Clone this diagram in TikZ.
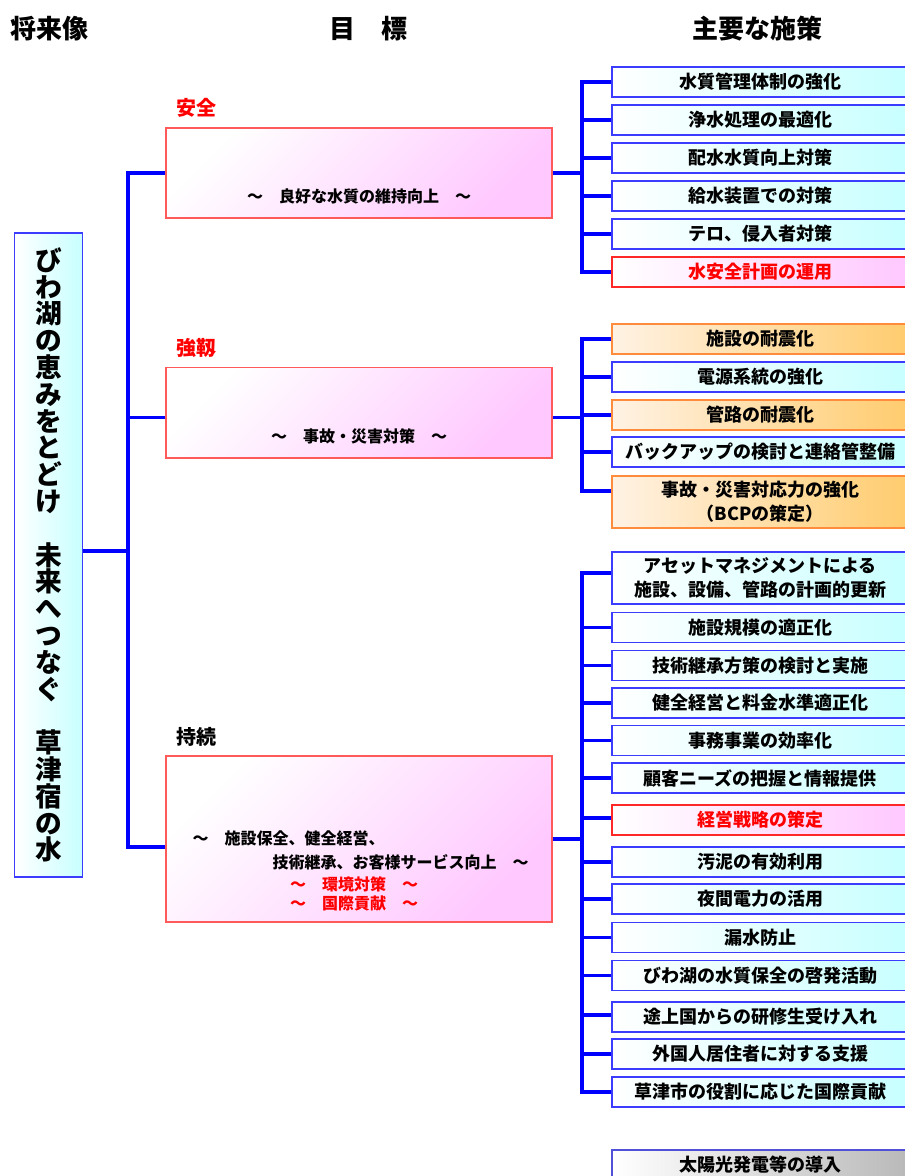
\documentclass[tikz,border=0pt]{standalone}
\usepackage{fontspec}
\setmainfont{Noto Sans CJK JP}

\definecolor{linkblue}{RGB}{0,0,255}
\definecolor{boxblue}{RGB}{60,60,255}
\definecolor{cyanfill}{RGB}{200,255,255}
\definecolor{orangeline}{RGB}{255,140,60}
\definecolor{orangelight}{RGB}{255,242,228}
\definecolor{orangefill}{RGB}{255,204,110}
\definecolor{redline}{RGB}{255,40,40}
\definecolor{pinkfill}{RGB}{255,200,255}
\definecolor{goalline}{RGB}{255,90,90}
\definecolor{greyfill}{RGB}{185,185,185}

\tikzset{every picture/.style={line width=0.75pt}}
\tikzset{
  trunk/.style={draw=linkblue, line width=2.5pt},
  measurebox/.style={draw=boxblue, line width=1pt, left color=white, right color=cyanfill,
    minimum width=222pt, minimum height=22.5pt, inner sep=0pt, align=center,
    font=\fontsize{13.5}{18}\selectfont\bfseries},
  quakebox/.style={measurebox, draw=orangeline, left color=orangelight, right color=orangefill},
  keybox/.style={measurebox, draw=redline, left color=white, right color=pinkfill, text=red},
  laterbox/.style={measurebox, draw=boxblue!70!gray, left color=white, right color=greyfill},
  goalbox/.style={draw=goalline, line width=1pt, top color=white, bottom color=pinkfill,
    shading angle=45, minimum width=289.5pt, minimum height=67.5pt, inner sep=0pt},
  goaltitle/.style={anchor=west, inner sep=0pt, font=\fontsize{15}{18}\selectfont\bfseries},
  goaltext/.style={inner sep=0pt, font=\fontsize{12}{18}\selectfont\bfseries},
  headtext/.style={font=\fontsize{19.5}{22}\selectfont\bfseries},
  visionbox/.style={draw=boxblue, line width=1pt, left color=white, right color=cyanfill,
    minimum width=51pt, minimum height=483pt, inner sep=0pt, align=center,
    font=\fontsize{20}{20.1}\selectfont\bfseries}
}

\begin{document}
\begin{tikzpicture}[x=0.75pt,y=0.75pt,yscale=-1,xscale=1]
  \useasboundingbox (0,0) rectangle (905,1176);
  \clip (0,0) rectangle (905,1176);

  \node [headtext] (hvision) at (49,29) {将来像};
  \node [headtext] (hgoal) at (368,29) {目　標};
  \node [headtext] (hmeasure) at (757,29) {主要な施策};

  \node [visionbox] (vision) at (48.5,555) {び\\わ\\湖\\の\\恵\\み\\を\\と\\ど\\け\\\mbox{}\\未\\来\\へ\\つ\\な\\ぐ\\\mbox{}\\草\\津\\宿\\の\\水};

  % goals
  \node [goalbox] (anzen) at (359,173) {};
  \node [goaltitle, text=red] (anzent) at (176,108) {安全};
  \node [goaltext] (anzenx) at (359,196) {～　良好な水質の維持向上　～};

  \node [goalbox, minimum height=68pt] (kyojin) at (359,412.5) {};
  \node [goaltitle, text=red] (kyojint) at (176,348) {強靱};
  \node [goaltext] (kyojinx) at (359,436) {～　事故・災害対策　～};

  \node [goalbox, minimum height=124.5pt] (jizoku) at (359,839) {};
  \node [goaltitle] (jizokut) at (176,737) {持続};
  \node [goaltext, anchor=west] (jizokux1) at (192,838) {～　施設保全、健全経営、};
  \node [goaltext, anchor=east] (jizokux2) at (529,862) {技術継承、お客様サービス向上　～};
  \node [goaltext, text=red] (jizokux3) at (354,884) {～　環境対策　～};
  \node [goaltext, text=red] (jizokux4) at (354,903) {～　国際貢献　～};

  % measures
  \node [measurebox] (m1) at (760,82) {水質管理体制の強化};
  \node [measurebox] (m2) at (760,120) {浄水処理の最適化};
  \node [measurebox] (m3) at (760,158) {配水水質向上対策};
  \node [measurebox] (m4) at (760,196) {給水装置での対策};
  \node [measurebox] (m5) at (760,234) {テロ、侵入者対策};
  \node [keybox] (m6) at (760,272) {水安全計画の運用};

  \node [quakebox] (m7) at (760,339) {施設の耐震化};
  \node [measurebox] (m8) at (760,377) {電源系統の強化};
  \node [quakebox] (m9) at (760,415) {管路の耐震化};
  \node [measurebox] (m10) at (760,452) {バックアップの検討と連絡管整備};
  \node [quakebox, minimum height=39pt] (m11) at (760,502) {事故・災害対応力の強化\\（BCPの策定）};

  \node [measurebox, minimum height=39pt] (m12) at (760,578) {アセットマネジメントによる\\施設、設備、管路の計画的更新};
  \node [measurebox] (m13) at (760,627.5) {施設規模の適正化};
  \node [measurebox] (m14) at (760,665.5) {技術継承方策の検討と実施};
  \node [measurebox] (m15) at (760,703) {健全経営と料金水準適正化};
  \node [measurebox] (m16) at (760,740.5) {事務事業の効率化};
  \node [measurebox] (m17) at (760,778) {顧客ニーズの把握と情報提供};
  \node [keybox] (m18) at (760,820) {経営戦略の策定};
  \node [measurebox] (m19) at (760,862) {汚泥の有効利用};
  \node [measurebox] (m20) at (760,899) {夜間電力の活用};
  \node [measurebox] (m21) at (760,937.5) {漏水防止};
  \node [measurebox] (m22) at (760,975.5) {びわ湖の水質保全の啓発活動};
  \node [measurebox] (m23) at (760,1017) {途上国からの研修生受け入れ};
  \node [measurebox] (m24) at (760,1054) {外国人居住者に対する支援};
  \node [measurebox] (m25) at (760,1092) {草津市の役割に応じた国際貢献};

  \node [laterbox] (m26) at (760,1165) {太陽光発電等の導入};

  % connectors
  \coordinate (spine) at (128,551);
  \coordinate (fork1) at (582,173);
  \coordinate (fork2) at (582,417.5);
  \coordinate (fork3) at (582,839);

  \draw [trunk] (vision.east |- spine) -- (spine);
  \draw [trunk] (anzen.west) -| (spine);
  \draw [trunk] ([yshift=3.75pt]kyojin.west) -| (spine);
  \draw [trunk] ([yshift=6pt]jizoku.west) -| (spine);

  \draw [trunk] (anzen.east) -- (fork1);
  \draw [trunk] (m1.west) -| (fork1);
  \draw [trunk] (m2.west) -| (fork1);
  \draw [trunk] (m3.west) -| (fork1);
  \draw [trunk] (m4.west) -| (fork1);
  \draw [trunk] (m5.west) -| (fork1);
  \draw [trunk] (m6.west) -| (fork1);

  \draw [trunk] (kyojin.east |- fork2) -- (fork2);
  \draw [trunk] (m7.west) -| (fork2);
  \draw [trunk] (m8.west) -| (fork2);
  \draw [trunk] (m9.west) -| (fork2);
  \draw [trunk] (m10.west) -| (fork2);
  \draw [trunk] ([yshift=-8.25pt]m11.west) -| (fork2);

  \draw [trunk] (jizoku.east) -- (fork3);
  \draw [trunk] ([yshift=-3.75pt]m12.west) -| (fork3);
  \draw [trunk] (m13.west) -| (fork3);
  \draw [trunk] (m14.west) -| (fork3);
  \draw [trunk] (m15.west) -| (fork3);
  \draw [trunk] (m16.west) -| (fork3);
  \draw [trunk] (m17.west) -| (fork3);
  \draw [trunk] ([yshift=-1.5pt]m18.west) -| (fork3);
  \draw [trunk] (m19.west) -| (fork3);
  \draw [trunk] (m20.west) -| (fork3);
  \draw [trunk] (m21.west) -| (fork3);
  \draw [trunk] (m22.west) -| (fork3);
  \draw [trunk] ([yshift=-1.5pt]m23.west) -| (fork3);
  \draw [trunk] (m24.west) -| (fork3);
  \draw [trunk] (m25.west) -| (fork3);

\end{tikzpicture}
\end{document}
